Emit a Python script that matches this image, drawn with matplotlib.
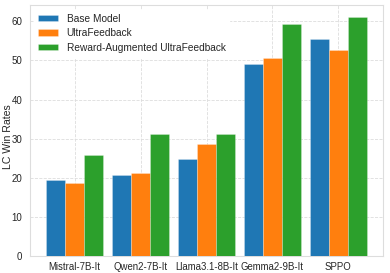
import matplotlib
matplotlib.use("Agg")
import matplotlib.pyplot as plt
import numpy as np
import seaborn as sns

categories = ["Mistral-7B-It", "Qwen2-7B-It", "Llama3.1-8B-It", "Gemma2-9B-It", "SPPO"]
series_names = ["Base Model", "UltraFeedback", "Reward-Augmented UltraFeedback"]
base_model = [19.5, 20.8, 24.7, 49.2, 55.6]
ultrafeedback = [18.6, 21.3, 28.6, 50.7, 52.7]
reward_aug = [25.8, 31.1, 31.1, 59.2, 61.0]
colors = ["#1f77b4", "#ff7f0e", "#2ca02c"]

sns.set_style("whitegrid")
plt.rcParams['font.family'] = ['Liberation Sans', 'DejaVu Sans']

fig, ax = plt.subplots(figsize=(3.9, 2.73), dpi=100)
x = np.arange(len(categories))
w = 0.29
for i, (vals, name) in enumerate(zip([base_model, ultrafeedback, reward_aug], series_names)):
    ax.bar(x + (i - 1) * w, vals, w, label=name, color=colors[i],
           edgecolor=(1, 1, 1, 0.35), linewidth=0.5, zorder=3)

ax.set_xticks(x)
ax.set_xticklabels(categories, fontsize=6.9)
ax.tick_params(axis='y', labelsize=7.0, pad=2.1)
ax.tick_params(axis='x', pad=1)
fig.text(7.6 / 390, 0.5, "LC Win Rates", rotation=90, ha='center', va='center',
         fontsize=7.6, color='#262626')
ax.grid(True, linestyle='--', linewidth=0.6, color='#dddddd', zorder=0)
for s in ax.spines.values():
    s.set_color('#dddddd')
    s.set_linewidth(0.8)
leg = ax.legend(loc='upper left', fontsize=7.3, frameon=True, edgecolor='white',
                framealpha=1, handlelength=2.0, handleheight=0.6, borderaxespad=0.4,
                labelspacing=0.45)
fig.subplots_adjust(left=0.077, right=0.982, top=0.98, bottom=0.062)
fig.savefig("out.png", dpi=100)
